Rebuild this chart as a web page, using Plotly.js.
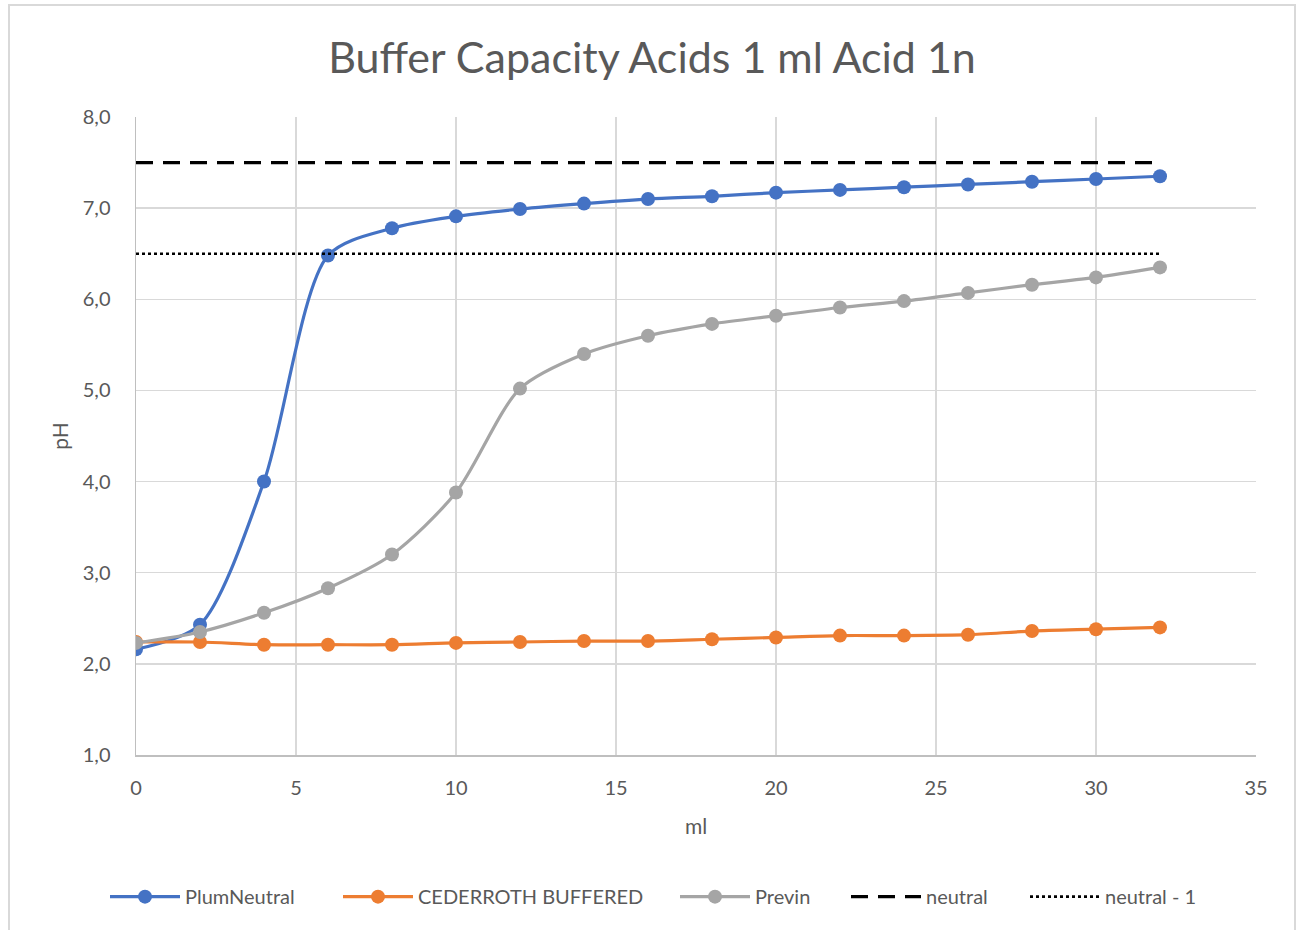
<!DOCTYPE html>
<html>
<head>
<meta charset="utf-8">
<script src="https://cdn.plot.ly/plotly-3.0.1.min.js"></script>
<style>
  html, body { margin: 0; padding: 0; background: #fff; overflow: hidden; }
  #frame { position: absolute; left: 8px; top: 4px; width: 1288px; height: 940px; border: 2px solid #d9d9d9; box-sizing: border-box; pointer-events: none; }
  #chart { position: absolute; left: 0; top: 0; width: 1304px; height: 930px; }
</style>
</head>
<body>
<div id="chart"></div>
<div id="frame"></div>
<script>
const ml = [0, 2, 4, 6, 8, 10, 12, 14, 16, 18, 20, 22, 24, 26, 28, 30, 32];
const plumNeutral = [2.16, 2.43, 4.00, 6.48, 6.78, 6.91, 6.99, 7.05, 7.10, 7.13, 7.17, 7.20, 7.23, 7.26, 7.29, 7.32, 7.35];
const cederroth = [2.24, 2.24, 2.21, 2.21, 2.21, 2.23, 2.24, 2.25, 2.25, 2.27, 2.29, 2.31, 2.31, 2.32, 2.36, 2.38, 2.40];
const previn = [2.23, 2.35, 2.56, 2.83, 3.20, 3.88, 5.02, 5.40, 5.60, 5.73, 5.82, 5.91, 5.98, 6.07, 6.16, 6.24, 6.35];
const neutralX = [0, 32];
const neutral = [7.5, 7.5];
const neutralMinus1 = [6.5, 6.5];
const xTicks = [0, 5, 10, 15, 20, 25, 30, 35];
const yTicks = [1, 2, 3, 4, 5, 6, 7, 8];

const font = "Lato, 'Open Sans', sans-serif";
const grey = '#595959';

const traces = [
  { x: ml, y: plumNeutral, name: 'PlumNeutral', mode: 'lines+markers', legend: 'legend',
    line: { color: '#4472c4', width: 3.2, shape: 'spline', smoothing: 0.8 },
    marker: { color: '#4472c4', size: 14, symbol: 'circle' } },
  { x: ml, y: cederroth, name: 'CEDERROTH BUFFERED', mode: 'lines+markers', legend: 'legend2',
    line: { color: '#ed7d31', width: 3.2, shape: 'spline', smoothing: 0.8 },
    marker: { color: '#ed7d31', size: 14, symbol: 'circle' } },
  { x: ml, y: previn, name: 'Previn', mode: 'lines+markers', legend: 'legend3',
    line: { color: '#a5a5a5', width: 3.2, shape: 'spline', smoothing: 0.8 },
    marker: { color: '#a5a5a5', size: 14, symbol: 'circle' } },
  { x: neutralX, y: neutral, name: 'neutral', mode: 'lines', legend: 'legend4',
    line: { color: '#000000', width: 3.2, dash: '17px,10px' } },
  { x: neutralX, y: neutralMinus1, name: 'neutral - 1', mode: 'lines', legend: 'legend5',
    line: { color: '#000000', width: 2.6, dash: 'dot' } }
];

function leg(px) {
  return {
    orientation: 'h', x: (px - 141) / 1120, xanchor: 'left', y: -0.222, yanchor: 'middle',
    font: { family: font, size: 20, color: grey },
    itemwidth: 70, bgcolor: 'rgba(0,0,0,0)', borderwidth: 0
  };
}

const layout = {
  width: 1304, height: 930,
  margin: { l: 136, r: 48, t: 117, b: 175 },
  paper_bgcolor: '#ffffff', plot_bgcolor: '#ffffff',
  separators: ',.',
  font: { family: font, color: grey, size: 20 },
  title: { text: 'Buffer Capacity Acids 1 ml Acid 1n', font: { family: font, size: 43, color: grey },
           x: 0.5, xref: 'container', xanchor: 'center', y: 0.938, yref: 'container', yanchor: 'middle' },
  xaxis: {
    range: [0, 35], tickvals: xTicks, ticktext: xTicks.map(String),
    showgrid: true, gridcolor: '#d9d9d9', gridwidth: 1.5,
    showline: true, linecolor: '#bfbfbf', linewidth: 1.5,
    zeroline: false, ticks: '', ticklabelstandoff: 14,
    tickfont: { family: font, size: 20, color: grey },
    title: { text: 'ml', font: { family: font, size: 21, color: grey }, standoff: 22 },
    automargin: false, fixedrange: true
  },
  yaxis: {
    range: [1, 8], tickvals: yTicks, tickformat: '.1f',
    showgrid: true, gridcolor: '#d9d9d9', gridwidth: 1.5,
    showline: true, linecolor: '#bfbfbf', linewidth: 1.5,
    zeroline: false, ticks: '', ticklabelstandoff: 20,
    tickfont: { family: font, size: 20, color: grey },
    title: { text: 'pH', font: { family: font, size: 21, color: grey }, standoff: 8 },
    automargin: false, fixedrange: true
  },
  showlegend: true,
  legend: leg(110),
  legend2: leg(343),
  legend3: leg(680),
  legend4: leg(851),
  legend5: leg(1030)
};

Plotly.newPlot('chart', traces, layout, { displayModeBar: false, staticPlot: true });
</script>
</body>
</html>
